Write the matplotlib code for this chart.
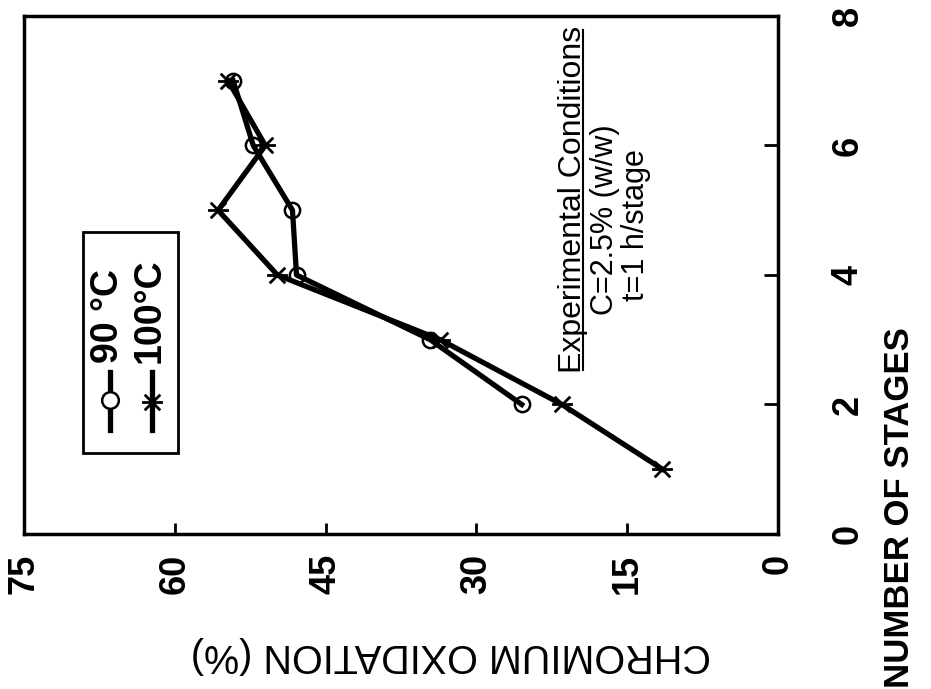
import matplotlib
matplotlib.use("Agg")
import matplotlib.pyplot as plt
from matplotlib.path import Path
from matplotlib.lines import Line2D
from matplotlib.patches import Rectangle

plt.rcParams['font.family'] = ['Liberation Sans', 'DejaVu Sans']

# Data (chart is drawn rotated: oxidation horizontal, stages vertical)
stages_90 = [2, 3, 4, 5, 6, 7]
ox_90 = [25.5, 34.6, 47.9, 48.3, 52.2, 54.2]
stages_100 = [1, 2, 3, 4, 5, 6, 7]
ox_100 = [11.5, 21.5, 33.6, 49.8, 55.7, 51.0, 54.7]
ox_ticks = [0, 15, 30, 45, 60, 75]
stage_ticks = [0, 2, 4, 6, 8]
legend_labels = ["90 \u00b0C", "100\u00b0C"]

ast = Path([(-1, 0), (1, 0), (-0.75, -0.75), (0.75, 0.75), (-0.75, 0.75), (0.75, -0.75)],
           [Path.MOVETO, Path.LINETO, Path.MOVETO, Path.LINETO, Path.MOVETO, Path.LINETO])

fig = plt.figure(figsize=(9.31, 6.89), dpi=100)
ax = fig.add_axes([0.0258, 0.225, 0.810, 0.7518])

ax.plot(ox_100, stages_100, color='black', lw=3.8, marker=ast, ms=15, mew=2.0, zorder=3)
ax.plot(ox_90, stages_90, color='black', lw=3.8, marker='o', ms=11, mfc='none', mew=1.8, zorder=4)

ax.set_xlim(75, 0)
ax.set_ylim(0, 8)
ax.set_xticks(ox_ticks)
ax.set_xticklabels([str(v) for v in ox_ticks], rotation=90, fontsize=26, fontweight='bold')
ax.yaxis.tick_right()
ax.set_yticks(stage_ticks)
ax.set_yticklabels([str(v) for v in stage_ticks], rotation=90, fontsize=26, fontweight='bold', va='center')
ax.tick_params(axis='x', direction='in', length=8, width=2, pad=14)
ax.tick_params(axis='y', direction='in', length=10, width=2, pad=38, right=True, left=False)
for s in ax.spines.values():
    s.set_linewidth(2.5)

# axis labels
fig.text(0.484, 0.049, "CHROMIUM OXIDATION (%)", rotation=180, ha='center', va='center', fontsize=28.5)
fig.text(0.966, 0.264, "NUMBER OF STAGES", rotation=90, ha='center', va='center', fontsize=25, fontweight='bold')

# legend (rotated, drawn manually)
ax.add_patch(Rectangle((0.078, 0.156), 0.126, 0.427, transform=ax.transAxes,
                       fill=False, lw=2, ec='black', zorder=5))
markers = ['o', ast]
xs = [0.114, 0.170]
for lab, mk, xx in zip(legend_labels, markers, xs):
    ax.add_line(Line2D([xx, xx], [0.20, 0.312], transform=ax.transAxes, color='black', lw=3.8,
                       zorder=6))
    if mk == 'o':
        ax.add_line(Line2D([xx], [0.258], transform=ax.transAxes, marker='o', ms=12, mfc='white',
                           mec='black', mew=1.8, zorder=7))
    else:
        ax.add_line(Line2D([xx], [0.255], transform=ax.transAxes, marker=ast, ms=15, color='black',
                           mew=2.0, zorder=7))
    ax.text(xx - 0.003, 0.33, lab, transform=ax.transAxes, rotation=90, ha='center', va='bottom',
            fontsize=27, fontweight='bold', zorder=7)

# experimental conditions annotation
ax.text(0.728, 0.645, "Experimental Conditions", transform=ax.transAxes, rotation=90,
        ha='center', va='center', fontsize=23)
ax.add_line(Line2D([0.741, 0.741], [0.317, 0.973], transform=ax.transAxes, color='black', lw=1.5))
ax.text(0.771, 0.606, "C=2.5% (w/w)", transform=ax.transAxes, rotation=90,
        ha='center', va='center', fontsize=22)
ax.text(0.812, 0.597, "t=1 h/stage", transform=ax.transAxes, rotation=90,
        ha='center', va='center', fontsize=22)

fig.savefig("out.png", dpi=100)
